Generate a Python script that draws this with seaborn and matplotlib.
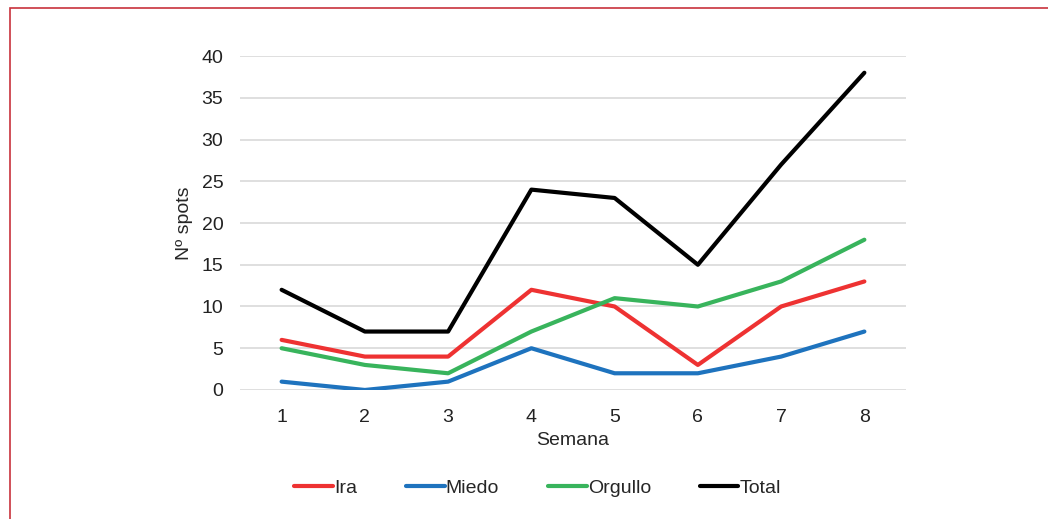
import pandas as pd
import seaborn as sns
import matplotlib.pyplot as plt
from matplotlib.patches import Rectangle

semana = [1, 2, 3, 4, 5, 6, 7, 8]
ira = [6, 4, 4, 12, 10, 3, 10, 13]
miedo = [1, 0, 1, 5, 2, 2, 4, 7]
orgullo = [5, 3, 2, 7, 11, 10, 13, 18]
total = [12, 7, 7, 24, 23, 15, 27, 38]

series = {"Ira": ira, "Miedo": miedo, "Orgullo": orgullo, "Total": total}
colores = {"Ira": "#EE3232", "Miedo": "#1E73BE", "Orgullo": "#38B45C", "Total": "#000000"}

rows = []
for name, vals in series.items():
    for s, v in zip(semana, vals):
        rows.append({"Semana": s, "spots": v, "serie": name})
df = pd.DataFrame(rows)

sns.set_style("white")
plt.rcParams['font.family'] = ['Liberation Sans', 'DejaVu Sans']

fig = plt.figure(figsize=(10.48, 5.19), dpi=100)
ax = fig.add_axes([0.229, 0.2486, 0.6355, 0.6434])

sns.lineplot(data=df, x="Semana", y="spots", hue="serie", palette=colores,
             linewidth=3, ax=ax, legend=True)

ax.set_xlim(0.5, 8.5)
ax.set_ylim(0, 40)
ax.set_yticks(range(0, 41, 5))
ax.set_xticks(semana)
ax.yaxis.grid(True, color="#d9d9d9", linewidth=1.2)
ax.xaxis.grid(False)
for sp in ax.spines.values():
    sp.set_visible(False)
ax.tick_params(axis="y", length=0, labelsize=14, colors="#222222", pad=12)
ax.tick_params(axis="x", length=0, labelsize=14, colors="#222222", pad=14)
ax.set_xlabel("Semana", fontsize=14, labelpad=4)
ax.set_ylabel("Nº spots", fontsize=14, labelpad=6)

handles, labels = ax.get_legend_handles_labels()
ax.legend(handles, labels, loc="center", bbox_to_anchor=(0.513, 0.06),
          bbox_transform=fig.transFigure, ncol=4, frameon=False,
          fontsize=14, handlelength=2.0, handletextpad=0.05, columnspacing=2.5)

fig.patches.append(Rectangle((10 / 1048, -0.05), 1.1, 1 - 8 / 519 + 0.05,
                             transform=fig.transFigure, fill=False,
                             edgecolor="#c8323c", linewidth=1.2))

fig.savefig("out.png", dpi=100)
